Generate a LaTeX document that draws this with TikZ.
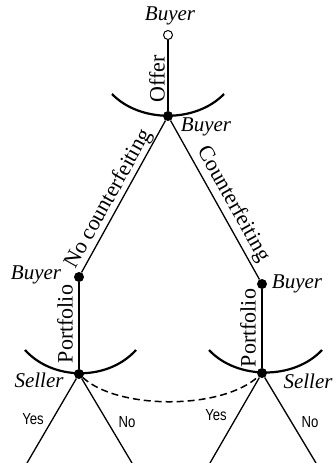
\documentclass[tikz,border=0pt]{standalone}
\usepackage{fontspec}
\setmainfont{Liberation Serif}
\newfontfamily\yesnofont{Liberation Sans}
\usepackage{tikz}
\usetikzlibrary{arrows.meta,positioning}

\begin{document}
\begin{tikzpicture}[
  x=1pt, y=-1pt,
  dot/.style={circle, fill=black, inner sep=0pt, minimum size=10pt},
  start/.style={circle, draw=black, fill=white, line width=1pt, inner sep=0pt, minimum size=9pt},
  player/.style={font=\fontsize{21}{24}\selectfont\itshape, inner sep=0pt},
  move/.style={font=\fontsize{22}{25}\selectfont, inner sep=0pt},
  answer/.style={font=\yesnofont\fontsize{16}{18}\selectfont, inner sep=0pt, xscale=0.82},
  stem/.style={line width=2.2pt},
  edge/.style={line width=1.3pt},
  cup/.style={line width=2.2pt},
  info/.style={line width=1.5pt, dash pattern=on 7pt off 4pt}
]
\useasboundingbox (0,0) rectangle (336,463);
% nodes of the tree
\node[start] (s)    at (168,35)  {};
\node[dot]   (root) at (168,116) {};
\node[dot]   (bl)   at (79,277)  {};
\node[dot]   (br)   at (262,284) {};
\node[dot]   (sl)   at (79,374)  {};
\node[dot]   (sr)   at (262,373) {};
\coordinate (ly) at (27,463);
\coordinate (ln) at (132,463);
\coordinate (ry) at (210,463);
\coordinate (rn) at (316,463);
% who moves
\node[player] (p0) at (170,16)  {Buyer};
\node[player] (p1) at (206,127) {Buyer};
\node[player] (p2) at (36,275)  {Buyer};
\node[player] (p3) at (297,284) {Buyer};
\node[player] (p4) at (39,380)  {Seller};
\node[player] (p5) at (308,381) {Seller};
% information sets
\draw[cup] (112,94) .. controls (140,123) and (196,123) .. (224,94);
\draw[cup] (25,350) .. controls (53,381) and (108,381) .. (136,350);
\draw[cup] (209,350) .. controls (237,380) and (294,380) .. (322,350);
\draw[info] (sl) .. controls (118,410) and (222,410) .. (sr);
% branches
\draw[stem] (s) -- (root);
\draw[edge] (bl) -- (root);
\draw[edge] (root) -- (br);
\draw[stem] (bl) -- (sl);
\draw[stem] (br) -- (sr);
\draw[edge] (sl) -- (ly);
\draw[edge] (sl) -- (ln);
\draw[edge] (sr) -- (ry);
\draw[edge] (sr) -- (rn);
% moves
\node[move, rotate=90]    (m0) at (157,79)  {Offer};
\node[move, rotate=60.8]  (m1) at (109,199) {No counterfeiting};
\node[move, rotate=-60.8] (m2) at (233,204) {Counterfeiting};
\node[move, rotate=90]    (m3) at (65,324)  {Portfolio};
\node[move, rotate=90]    (m4) at (248,328) {Portfolio};
% answers
\node[answer] (a1) at (33,419)  {Yes};
\node[answer] (a2) at (127,422) {No};
\node[answer] (a3) at (216,415) {Yes};
\node[answer] (a4) at (310,422) {No};
\end{tikzpicture}
\end{document}
